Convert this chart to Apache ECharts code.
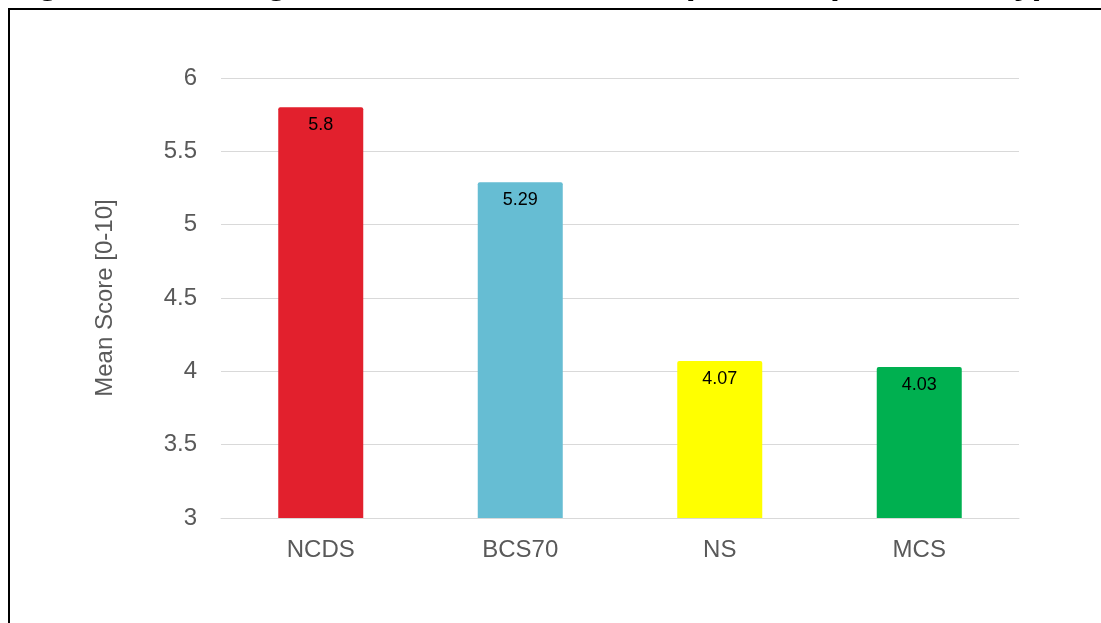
<!DOCTYPE html>
<html>
<head>
<meta charset="utf-8">
<script src="https://cdn.jsdelivr.net/npm/echarts@6/dist/echarts.min.js"></script>
<style>
  html, body { margin: 0; padding: 0; background: #fff; }
  #chart { width: 1101px; height: 623px; }
</style>
</head>
<body>
<div id="chart"></div>
<script>
// cohorts and their mean scores
const cohorts = ['NCDS', 'BCS70', 'NS', 'MCS'];
const meanScores = [5.8, 5.29, 4.07, 4.03];
const barColors = ['#E2202D', '#66BDD3', '#FFFF00', '#00B050'];
const yTicks = { min: 3, max: 6, interval: 0.5 };
// title sits mostly above the frame, only the descenders show
const titleText = 'Figure 6: Average Life Satisfaction Comparison (Adults only)';

const chart = echarts.init(document.getElementById('chart'));

const option = {
  animation: false,
  textStyle: { fontFamily: 'Arial, Liberation Sans, sans-serif' },
  grid: { left: 221, right: 82, top: 78, bottom: 105 },
  graphic: [
    {
      type: 'text',
      left: 5,
      top: -35,
      style: {
        text: titleText,
        font: 'bold 36px Arial, Liberation Sans, sans-serif',
        fill: '#000'
      }
    },
    {
      type: 'rect',
      shape: { x: 9, y: 9, width: 1200, height: 700 },
      style: { fill: 'none', stroke: '#000', lineWidth: 2 },
      silent: true
    }
  ],
  xAxis: {
    type: 'category',
    data: cohorts,
    axisTick: { show: false },
    axisLine: { lineStyle: { color: '#D9D9D9', width: 1 } },
    axisLabel: { color: '#595959', fontSize: 24, margin: 20 }
  },
  yAxis: {
    type: 'value',
    min: yTicks.min,
    max: yTicks.max,
    interval: yTicks.interval,
    name: 'Mean Score [0-10]',
    nameLocation: 'middle',
    nameGap: 104,
    nameTextStyle: { color: '#595959', fontSize: 24 },
    axisLine: { show: false },
    axisTick: { show: false },
    axisLabel: { color: '#595959', fontSize: 24, margin: 24 },
    splitLine: { lineStyle: { color: '#D9D9D9', width: 1 } }
  },
  series: [
    {
      type: 'bar',
      barWidth: 85,
      data: meanScores.map((v, i) => ({
        value: v,
        itemStyle: { color: barColors[i], borderRadius: [2, 2, 0, 0] }
      })),
      label: {
        show: true,
        position: 'insideTop',
        distance: 9,
        color: '#000',
        fontSize: 18
      }
    }
  ]
};

chart.setOption(option);
</script>
</body>
</html>
